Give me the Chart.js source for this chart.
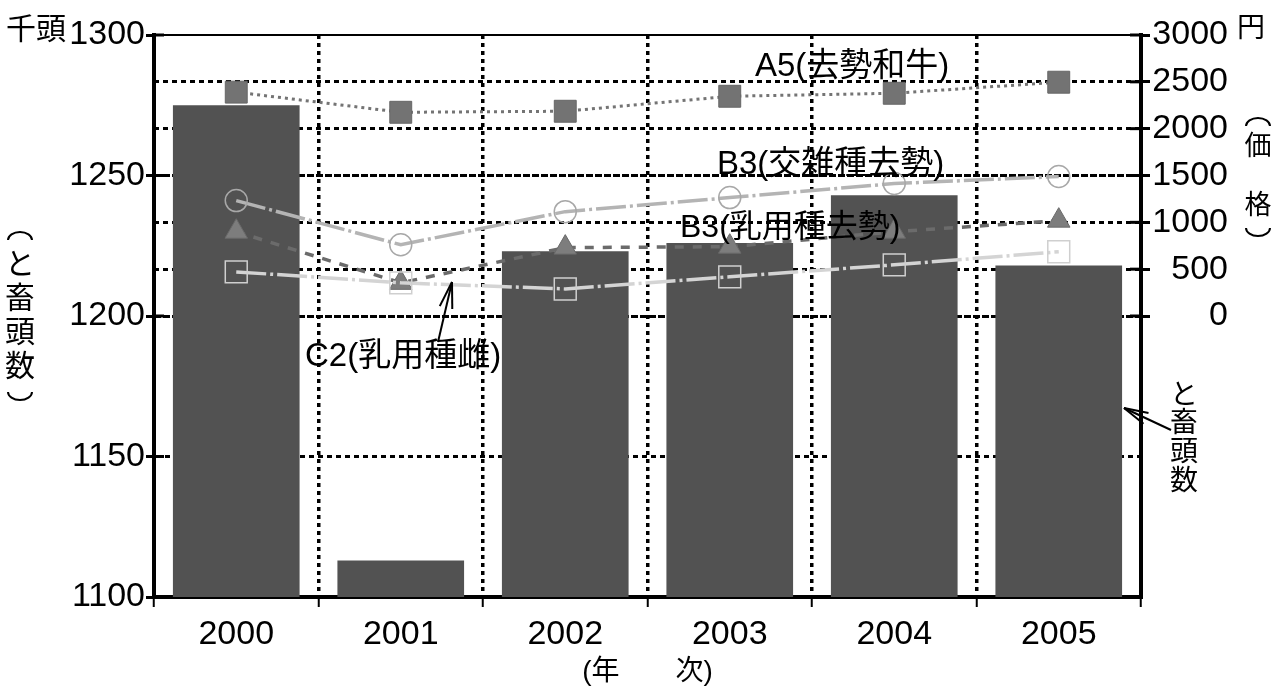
<!DOCTYPE html>
<html>
<head>
<meta charset="utf-8">
<script src="https://cdn.jsdelivr.net/npm/chart.js@4/dist/chart.umd.min.js"></script>
<style>
  html, body { margin: 0; padding: 0; background: #fff; }
  #wrap { width: 1281px; height: 686px; position: relative; }
  canvas { display: block; }
</style>
</head>
<body>
<div id="wrap"><canvas id="c" width="1281" height="686"></canvas></div>
<script>
// 年次
const years = ['2000', '2001', '2002', '2003', '2004', '2005'];
// と畜頭数（千頭）
const slaughterHeads = [1275, 1113, 1223, 1226, 1243, 1218];
// 枝肉価格（円）
const priceA5 = [2390, 2175, 2186, 2346, 2378, 2496];
const priceB3Cross = [1232, 761, 1114, 1264, 1414, 1489];
const priceB3Dairy = [900, 354, 730, 740, 900, 1018];
const priceC2 = [471, 354, 289, 418, 546, 686];
// 目盛
const headTicks = [1100, 1150, 1200, 1250, 1300];
const priceTicks = [0, 500, 1000, 1500, 2000, 2500, 3000];
// 系列名
const seriesNames = ['A5(去勢和牛)', 'B3(交雑種去勢)', 'B3(乳用種去勢)', 'C2(乳用種雌)'];

const LATIN = '"Liberation Sans", "Noto Sans CJK JP", sans-serif';
const CJK = '"Noto Sans CJK JP", "Liberation Sans", sans-serif';

function seg(ctx, x1, y1, x2, y2) {
  ctx.beginPath(); ctx.moveTo(x1, y1); ctx.lineTo(x2, y2); ctx.stroke();
}
function arrow(ctx, x1, y1, x2, y2, len, ang) {
  seg(ctx, x1, y1, x2, y2);
  const back = Math.atan2(y1 - y2, x1 - x2);
  seg(ctx, x2, y2, x2 + len * Math.cos(back + ang), y2 + len * Math.sin(back + ang));
  seg(ctx, x2, y2, x2 + len * Math.cos(back - ang), y2 + len * Math.sin(back - ang));
}
// 縦書き用の括弧（横向きの弧）: open=true で上に凸
function vParen(ctx, x, y, w, h, open) {
  ctx.save();
  ctx.lineWidth = 2;
  ctx.beginPath();
  if (open) ctx.ellipse(x, y + h / 2, w / 2, h, 0, Math.PI, 2 * Math.PI);
  else ctx.ellipse(x, y - h / 2, w / 2, h, 0, 0, Math.PI);
  ctx.stroke();
  ctx.restore();
}
function vText(ctx, chars, x, ys, size) {
  ctx.font = size + 'px ' + CJK;
  ctx.textAlign = 'center';
  ctx.textBaseline = 'middle';
  chars.forEach((c, i) => ctx.fillText(c, x, ys[i]));
}

const decorations = {
  id: 'decorations',
  afterDraw(chart) {
    const { ctx, chartArea: a } = chart;
    const yl = chart.scales.yHeads, yr = chart.scales.yPrice;
    ctx.save();
    ctx.strokeStyle = '#000';
    ctx.fillStyle = '#000';

    // 上枠
    ctx.lineWidth = 2;
    seg(ctx, a.left, a.top, a.right, a.top);

    // 目盛線の内側部分
    ctx.lineWidth = 3;
    yl.ticks.forEach(t => {
      const y = yl.getPixelForValue(t.value);
      seg(ctx, a.left, y, a.left + 10, y);
    });
    yr.ticks.forEach(t => {
      const y = yr.getPixelForValue(t.value);
      seg(ctx, a.right - 11, y, a.right, y);
    });

    // 単位
    ctx.font = '30px ' + CJK;
    ctx.textAlign = 'left';
    ctx.textBaseline = 'middle';
    ctx.fillText('千頭', 6, 28);
    ctx.font = '28px ' + CJK;
    ctx.fillText('円', 1237, 26);

    // 軸タイトル
    vParen(ctx, 20, 236, 24, 8, true);
    vText(ctx, ['と', '畜', '頭', '数'], 20, [263, 297, 331, 365], 30);
    vParen(ctx, 20, 396, 24, 8, false);

    vParen(ctx, 1258, 122, 24, 8, true);
    vText(ctx, ['価', '格'], 1258, [145, 204], 27);
    vParen(ctx, 1258, 232, 24, 8, false);

    vText(ctx, ['と', '畜', '頭', '数'], 1184, [393, 421, 450, 479], 28);
    ctx.lineWidth = 2;
    arrow(ctx, 1171, 430, 1124, 408, 25, 0.24);

    ctx.font = '28px ' + LATIN;
    ctx.textAlign = 'center';
    ctx.textBaseline = 'middle';
    ctx.fillText('(年　　次)', (a.left + a.right) / 2, 672);

    // 系列名
    ctx.textAlign = 'left';
    ctx.font = '33px ' + LATIN;
    ctx.fillText(seriesNames[0], 755, 67);
    ctx.fillText(seriesNames[1], 717, 165);
    ctx.font = '32px ' + LATIN;
    ctx.fillText(seriesNames[2], 680, 228);
    ctx.font = '33px ' + LATIN;
    ctx.fillText(seriesNames[3], 305, 357);
    ctx.lineWidth = 2;
    arrow(ctx, 438, 342, 452, 282, 27, 0.24);

    ctx.restore();
  }
};

new Chart(document.getElementById('c'), {
  data: {
    labels: years,
    datasets: [
      {
        type: 'line', label: seriesNames[3], data: priceC2, yAxisID: 'yPrice', order: 1,
        borderColor: '#d4d4d4', borderWidth: 3.5, borderDash: [30, 4, 3, 4], tension: 0,
        pointStyle: 'rect', pointRadius: 15.5, pointHoverRadius: 15.5,
        pointBackgroundColor: 'rgba(0,0,0,0)', pointBorderColor: '#cfcfcf', pointBorderWidth: 1.5
      },
      {
        type: 'line', label: seriesNames[2], data: priceB3Dairy, yAxisID: 'yPrice', order: 2,
        borderColor: '#6b6b6b', borderWidth: 3.5, borderDash: [9, 9], tension: 0,
        pointStyle: 'triangle', pointRadius: 13, pointHoverRadius: 13,
        pointBackgroundColor: '#7d7d7d', pointBorderColor: '#6a6a6a', pointBorderWidth: 1
      },
      {
        type: 'line', label: seriesNames[1], data: priceB3Cross, yAxisID: 'yPrice', order: 3,
        borderColor: '#b4b4b4', borderWidth: 3.5, borderDash: [30, 4, 3, 4], tension: 0,
        pointStyle: 'circle', pointRadius: 11, pointHoverRadius: 11,
        pointBackgroundColor: 'rgba(0,0,0,0)', pointBorderColor: '#a8a8a8', pointBorderWidth: 1.5
      },
      {
        type: 'line', label: seriesNames[0], data: priceA5, yAxisID: 'yPrice', order: 4,
        borderColor: '#747474', borderWidth: 3, borderDash: [3, 4], tension: 0,
        pointStyle: 'rect', pointRadius: 15.5, pointHoverRadius: 15.5,
        pointBackgroundColor: '#737373', pointBorderColor: '#666666', pointBorderWidth: 1
      },
      {
        type: 'bar', label: 'と畜頭数', data: slaughterHeads, yAxisID: 'yHeads', order: 10,
        backgroundColor: '#525252', borderWidth: 0,
        barPercentage: 0.77, categoryPercentage: 1
      }
    ]
  },
  options: {
    responsive: false,
    maintainAspectRatio: false,
    animation: false,
    devicePixelRatio: 1,
    layout: { padding: { top: 35, left: 0, right: 53, bottom: 0 } },
    plugins: { legend: { display: false }, tooltip: { enabled: false } },
    scales: {
      x: {
        type: 'category',
        offset: true,
        grid: {
          offset: true,
          color: c => (c.index === 0 || c.index === years.length) ? 'rgba(0,0,0,0)' : '#000',
          lineWidth: 3.5,
          tickColor: '#000',
          tickLength: 10,
          tickWidth: 2
        },
        border: { display: true, color: '#000', width: 4, dash: [4, 4] },
        ticks: { color: '#000', font: { family: LATIN, size: 34 }, padding: 7, maxRotation: 0 },
        afterFit: s => { s.height = 89; }
      },
      yHeads: {
        type: 'linear',
        position: 'left',
        min: 1100, max: 1300,
        afterBuildTicks: s => { s.ticks = headTicks.map(v => ({ value: v })); },
        grid: {
          color: c => (c.tick && [1150, 1200, 1250].includes(c.tick.value)) ? '#000' : 'rgba(0,0,0,0)',
          lineWidth: 3,
          tickColor: '#000',
          tickLength: 8,
          tickWidth: 3
        },
        border: { display: true, color: '#000', width: 4, dash: [5, 4] },
        ticks: { color: '#000', font: { family: LATIN, size: 34 }, padding: 1, callback: v => String(v) },
        afterFit: s => { s.width = 154; }
      },
      yPrice: {
        type: 'linear',
        position: 'right',
        min: -3000, max: 3000,
        afterBuildTicks: s => { s.ticks = priceTicks.map(v => ({ value: v })); },
        grid: {
          color: c => (c.tick && c.tick.value < 3000) ? '#000' : 'rgba(0,0,0,0)',
          lineWidth: 3,
          tickColor: '#000',
          tickLength: 9,
          tickWidth: 3
        },
        border: { display: true, color: '#000', width: 4, dash: [5, 4] },
        ticks: { color: '#000', font: { family: LATIN, size: 34 }, padding: 2, crossAlign: 'far', callback: v => String(v) },
        afterFit: s => { s.width = 87; }
      }
    }
  },
  plugins: [decorations]
});
</script>
</body>
</html>
